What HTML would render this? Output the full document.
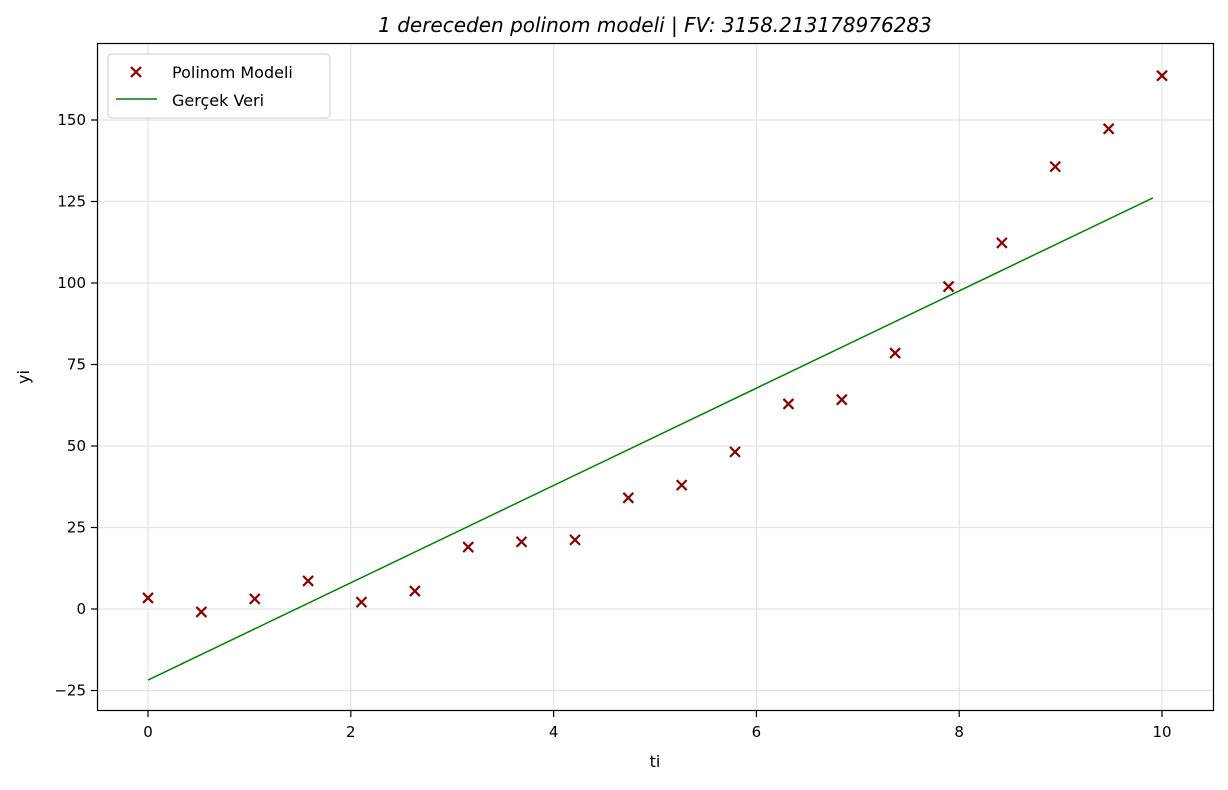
<!DOCTYPE html>
<html><head><meta charset="utf-8">
<style>
body{margin:0;background:#fff;}
svg text{font-family:"DejaVu Sans","Liberation Sans",sans-serif;}
</style></head>
<body>
<svg id="chart" width="1228" height="785" xmlns="http://www.w3.org/2000/svg">
<text x="655" y="32" text-anchor="middle" font-size="20" font-style="italic">1 dereceden polinom modeli | FV: 3158.213178976283</text>
<g id="grid"></g>
<g id="marks"></g>
<rect x="97.5" y="43.5" width="1116" height="667" fill="none" stroke="#000" stroke-width="1.2"/>
<g id="ticks"></g>
<text x="655" y="767" text-anchor="middle" font-size="16">ti</text>
<text transform="translate(29,377) rotate(-90)" text-anchor="middle" font-size="16">yi</text>
<g>
<rect x="108" y="54" width="222" height="64" rx="4" fill="#fff" stroke="#ccc"/>
<g stroke="#8b0000" stroke-width="2.2"><line x1="131" y1="67" x2="141" y2="77"/><line x1="141" y1="67" x2="131" y2="77"/></g>
<text x="172" y="78" font-size="16">Polinom Modeli</text>
<line x1="116" y1="99" x2="157" y2="99" stroke="#008000" stroke-width="1.5"/>
<text x="172" y="106" font-size="16">Gerçek Veri</text>
</g>
</svg>
<script>
const pointT = [0,0.526,1.053,1.579,2.105,2.632,3.158,3.684,4.211,4.737,5.263,5.789,6.316,6.842,7.368,7.895,8.421,8.947,9.474,10];
const pointY = [3.4,-0.9,3.1,8.6,2.1,5.5,19.0,20.6,21.2,34.1,38.0,48.2,62.9,64.2,78.5,98.9,112.3,135.7,147.3,163.6];
const lineT = [0,9.91];
const lineY = [-21.8,126.1];
const xTicks = [0,2,4,6,8,10];
const yTicks = [-25,0,25,50,75,100,125,150];
const NS="http://www.w3.org/2000/svg";
const X=t=>148+t*101.4;
const Y=v=>609-v*3.26;
function mk(tag,attrs,parent){const e=document.createElementNS(NS,tag);for(const k in attrs)e.setAttribute(k,attrs[k]);document.getElementById(parent).appendChild(e);return e;}
xTicks.forEach(t=>{
  const g=mk('line',{x1:X(t),x2:X(t),y1:44,y2:710,stroke:'#e3e3e3','stroke-width':1.2},'grid');
  
  
  const tk=mk('line',{x1:X(t),x2:X(t),y1:711,y2:717,stroke:'#000','stroke-width':1.2},'ticks');
  
  
  const tx=mk('text',{x:X(t),y:737,'text-anchor':'middle','font-size':15},'ticks');
  tx.textContent=t;
  
  
});
yTicks.forEach(v=>{
  const g=mk('line',{x1:98,x2:1213,y1:Y(v),y2:Y(v),stroke:'#e3e3e3','stroke-width':1.2},'grid');
  
  
  const tk=mk('line',{x1:91,x2:97,y1:Y(v),y2:Y(v),stroke:'#000','stroke-width':1.2},'ticks');
  
  
  const tx=mk('text',{x:86,y:Y(v)+5,'text-anchor':'end','font-size':15},'ticks');
  tx.textContent=v<0?'\u2212'+Math.abs(v):v;
  
  
});
const pl=mk('polyline',{points:lineT.map((t,i)=>X(t)+','+Y(lineY[i])).join(' '),fill:'none',stroke:'#008000','stroke-width':1.5},'marks');


pointT.forEach((t,i)=>{
  const cx=X(t),cy=Y(pointY[i]);
  const p=mk('path',{d:`M${cx-5},${cy-5}L${cx+5},${cy+5}M${cx+5},${cy-5}L${cx-5},${cy+5}`,stroke:'#8b0000','stroke-width':2.2},'marks');
  
  
});
</script>
</body></html>
